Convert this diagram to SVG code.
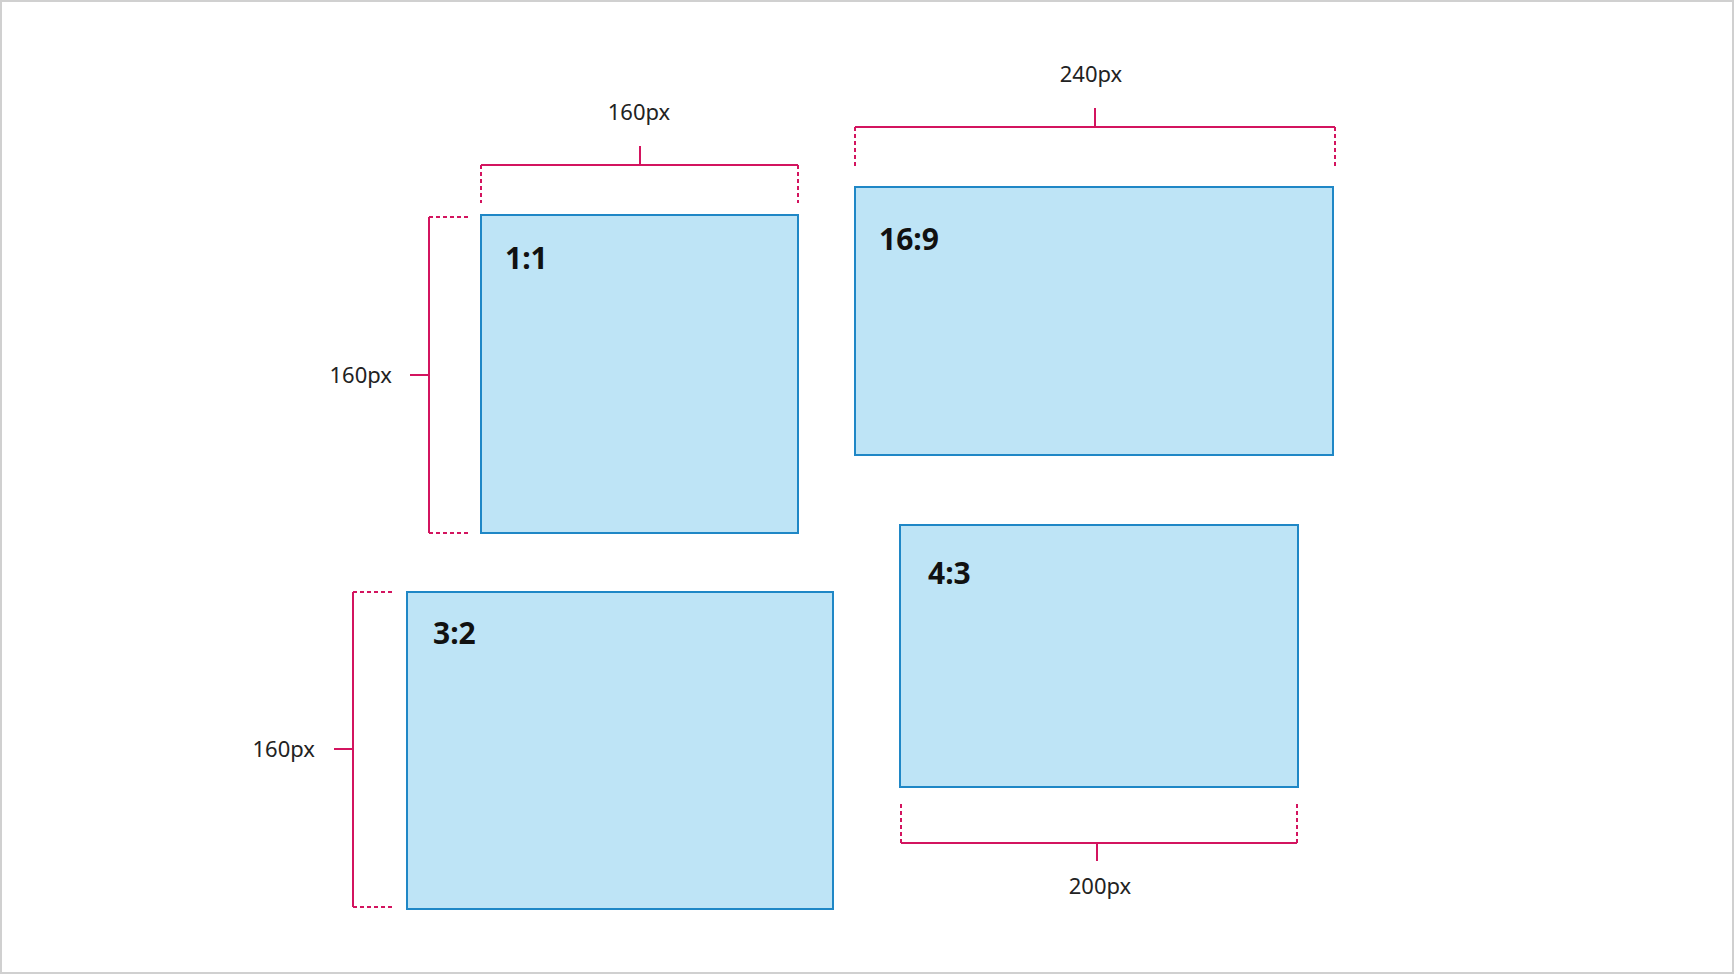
<svg xmlns="http://www.w3.org/2000/svg" width="1734" height="974" viewBox="0 0 1734 974">
<style>
.box{fill:#bee4f6;stroke:#1f87c6;stroke-width:2}
.t{font-family:"Noto Sans","Liberation Sans",sans-serif;font-weight:bold;font-size:30px;fill:#111}
.d{font-family:"Noto Sans","Liberation Sans",sans-serif;font-size:22px;fill:#222}
.m{stroke:#d3145f;stroke-width:2;fill:none}
.dot{stroke:#d3145f;stroke-width:2;fill:none;stroke-dasharray:4 3}
</style>
<rect x="1" y="1" width="1732" height="972" fill="#fff" stroke="#d0d0d0" stroke-width="2"/>
<g id="n11"><rect class="box" x="481" y="215" width="317" height="318"/><text class="t" x="505" y="269">1:1</text></g>
<g id="n169"><rect class="box" x="855" y="187" width="478" height="268"/><text class="t" x="879" y="250">16:9</text></g>
<g id="n43"><rect class="box" x="900" y="525" width="398" height="262"/><text class="t" x="928" y="584">4:3</text></g>
<g id="n32"><rect class="box" x="407" y="592" width="426" height="317"/><text class="t" x="433" y="644">3:2</text></g>
<g id="connectors">
<path class="m" d="M481 165H798M640 146V165"/><path class="dot" d="M481 165V203M798 165V203"/>
<text class="d" x="639" y="120" text-anchor="middle">160px</text>
<path class="m" d="M855 127H1335M1095 108V127"/><path class="dot" d="M855 127V166M1335 127V166"/>
<text class="d" x="1091" y="82" text-anchor="middle">240px</text>
<path class="m" d="M429 217V533M410 375H429"/><path class="dot" d="M429 217H468M429 533H468"/>
<text class="d" x="392" y="383" text-anchor="end">160px</text>
<path class="m" d="M353 592V907M334 749H353"/><path class="dot" d="M353 592H393M353 907H393"/>
<text class="d" x="315" y="757" text-anchor="end">160px</text>
<path class="m" d="M901 843H1297M1097 843V861"/><path class="dot" d="M901 804V843M1297 804V843"/>
<text class="d" x="1100" y="894" text-anchor="middle">200px</text>
</g>
</svg>
